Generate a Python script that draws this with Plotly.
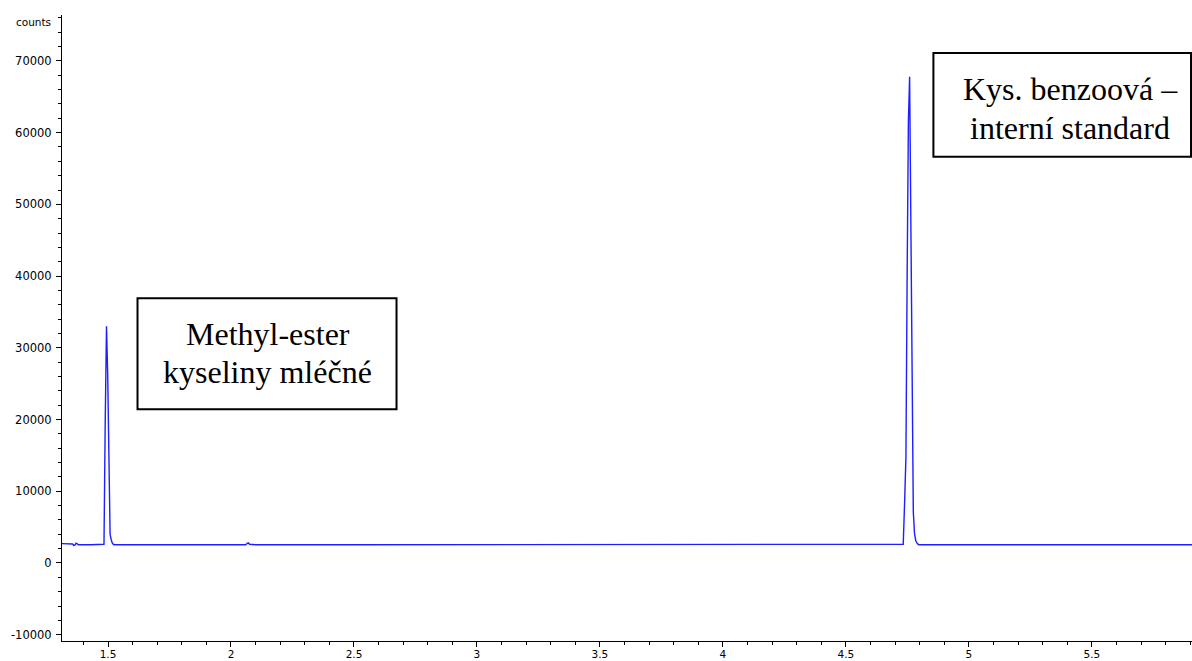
import plotly.graph_objects as go

# Retention time (min) and detector response (counts)
time_min = [1.313, 1.340, 1.356, 1.360, 1.365, 1.370, 1.375, 1.380, 1.430,
            1.4837, 1.4886, 1.4939, 1.4988, 1.5037, 1.5085, 1.5134, 1.5183, 1.5244,
            1.600, 1.800, 2.000, 2.060, 2.066, 2.070, 2.076, 2.100,
            2.500, 3.000, 3.500, 4.000, 4.500, 4.700,
            4.733, 4.7385, 4.744, 4.749, 4.754, 4.759, 4.764, 4.769, 4.774, 4.779,
            4.784, 4.790, 4.796, 4.850, 5.000, 5.500, 5.907]
counts = [2700, 2700, 2650, 2450, 2500, 2750, 2700, 2550, 2550,
          2600, 19340, 33000, 26280, 13960, 4000, 3200, 2700, 2550,
          2550, 2550, 2550, 2550, 2750, 2800, 2600, 2550,
          2550, 2550, 2550, 2550, 2550, 2550,
          2600, 8280, 14780, 40360, 61510, 67780, 47100, 28270, 7110, 4100,
          3100, 2700, 2550, 2550, 2550, 2550, 2550]

x_ticks = [1.5, 2, 2.5, 3, 3.5, 4, 4.5, 5, 5.5]
x_tick_labels = ["1.5", "2", "2.5", "3", "3.5", "4", "4.5", "5", "5.5"]
y_ticks = [-10000, 0, 10000, 20000, 30000, 40000, 50000, 60000, 70000]
y_tick_labels = ["-10000", "0", "10000", "20000", "30000", "40000", "50000", "60000", "70000"]

label_1_lines = ["Methyl-ester", "kyseliny mléčné"]
label_2_lines = ["Kys. benzoová –", "interní standard"]

fig = go.Figure()
fig.add_trace(go.Scatter(x=time_min, y=counts, mode="lines",
                         line=dict(color="#1e1eff", width=1.4),
                         hoverinfo="skip", showlegend=False))

y_tick_font = dict(family="DejaVu Sans, Verdana, sans-serif", size=11.5, color="black")
x_tick_font = dict(family="DejaVu Sans, Verdana, sans-serif", size=10.5, color="black")

fig.update_layout(
    width=1192, height=661,
    margin=dict(l=62, r=0, t=15, b=20),
    paper_bgcolor="white", plot_bgcolor="white",
    xaxis=dict(range=[1.313, 5.907], tickvals=x_ticks, ticktext=x_tick_labels,
               ticks="outside", ticklen=5, tickcolor="black", tickwidth=1,
               showline=True, linecolor="black", linewidth=1, showgrid=False,
               zeroline=False, tickfont=x_tick_font, automargin=False,
               ticklabelstandoff=-2,
               minor=dict(dtick=0.1, tick0=1.5, ticks="outside", ticklen=3,
                          tickcolor="black", showgrid=False)),
    yaxis=dict(range=[-10880, 76400], tickvals=y_ticks, ticktext=y_tick_labels,
               ticks="outside", ticklen=5, tickcolor="black", tickwidth=1,
               showline=True, linecolor="black", linewidth=1, showgrid=False,
               zeroline=False, tickfont=y_tick_font, ticklabelstandoff=2,
               automargin=False,
               minor=dict(dtick=2000, tick0=0, ticks="outside", ticklen=3,
                          tickcolor="black", showgrid=False)),
)

# annotation boxes
fig.add_shape(type="rect", xref="x", yref="y", x0=1.620, x1=2.673, y0=21440, y1=36920,
              line=dict(color="black", width=2), fillcolor="white", layer="above")
fig.add_shape(type="rect", xref="x", yref="y", x0=4.8557, x1=5.903, y0=56620, y1=71090,
              line=dict(color="black", width=2), fillcolor="white", layer="above")

serif = dict(family="Liberation Serif, Times New Roman, serif", size=32, color="black")
# box 1 text lines
fig.add_annotation(x=2.149, y=31910, xref="x", yref="y", text=label_1_lines[0],
                   showarrow=False, font=serif)
fig.add_annotation(x=2.149, y=26600, xref="x", yref="y", text=label_1_lines[1],
                   showarrow=False, font=serif)
# box 2 text lines
fig.add_annotation(x=5.413, y=66050, xref="x", yref="y", text=label_2_lines[0],
                   showarrow=False, font=serif)
fig.add_annotation(x=5.413, y=60600, xref="x", yref="y", text=label_2_lines[1],
                   showarrow=False, font=serif)

fig.add_annotation(x=0, xref="paper", y=75450, yref="y", text="counts",
                   showarrow=False, xanchor="right", xshift=-9,
                   font=dict(family="DejaVu Sans, Verdana, sans-serif", size=10.5, color="black"))

fig.write_html("out.html")
